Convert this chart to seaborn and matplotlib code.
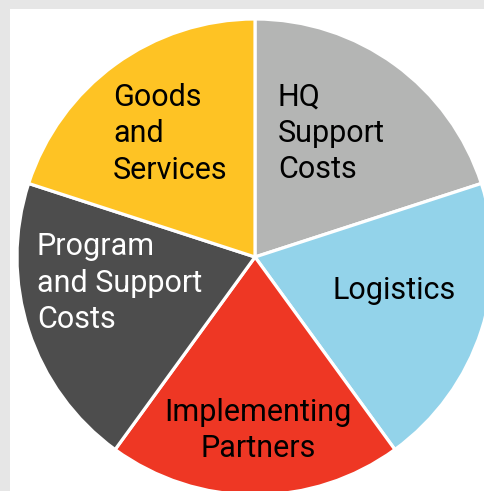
import seaborn as sns
import matplotlib.pyplot as plt

# slice data, clockwise from 12 o'clock
categories = ["HQ Support Costs", "Logistics", "Implementing Partners",
              "Program and Support Costs", "Goods and Services"]
shares = [20, 20, 20, 20, 20]
colors = ["#b4b5b4", "#93d3ea", "#ee3724", "#4d4d4d", "#fec324"]

# label lines as printed on the chart
label_lines = {
    "HQ Support Costs": ["HQ", "Support", "Costs"],
    "Logistics": ["Logistics"],
    "Implementing Partners": ["Implementing", "Partners"],
    "Program and Support Costs": ["Program", "and Support", "Costs"],
    "Goods and Services": ["Goods", "and", "Services"],
}
text_colors = ["black", "black", "black", "white", "black"]

if __name__ == "__main__":
    sns.set_theme(style="white")
    plt.rcParams["font.family"] = ["Roboto", "DejaVu Sans"]

    W, H = 484, 491
    cx, cy, R = 255, 257, 238  # pie centre / radius in pixels

    fig = plt.figure(figsize=(W / 100, H / 100), dpi=100, facecolor="#e6e6e6")
    # axes = white panel inside the grey frame
    ax = fig.add_axes([10 / W, 0, (W - 10) / W, (H - 9) / H])
    ax.set_facecolor("white")

    ax.pie(shares, colors=colors, startangle=90, counterclock=False, radius=1,
           frame=True, wedgeprops=dict(edgecolor="white", linewidth=2.3))

    def px(x, y):
        return (x - cx) / R, (cy - y) / R

    ax.set_xlim(px(10, 0)[0], px(W, 0)[0])
    ax.set_ylim(px(0, H)[1], px(0, 9)[1])
    ax.set_aspect("equal")
    ax.set_xticks([])
    ax.set_yticks([])
    sns.despine(ax=ax, left=True, bottom=True)

    # (x, first baseline, alignment, line step) in pixels
    places = {
        "HQ Support Costs": (278, 106, "left", 36),
        "Logistics": (333, 299, "left", 36),
        "Implementing Partners": (258, 421, "center", 36),
        "Program and Support Costs": (37, 255, "left", 36.5),
        "Goods and Services": (113, 106, "left", 36.5),
    }
    for cat, tc in zip(categories, text_colors):
        x, y0, ha, step = places[cat]
        for i, line in enumerate(label_lines[cat]):
            xx, yy = px(x, y0 + i * step)
            ax.text(xx, yy, line, ha=ha, va="baseline", fontsize=22, color=tc)

    fig.savefig("out.png", dpi=100, facecolor=fig.get_facecolor())
